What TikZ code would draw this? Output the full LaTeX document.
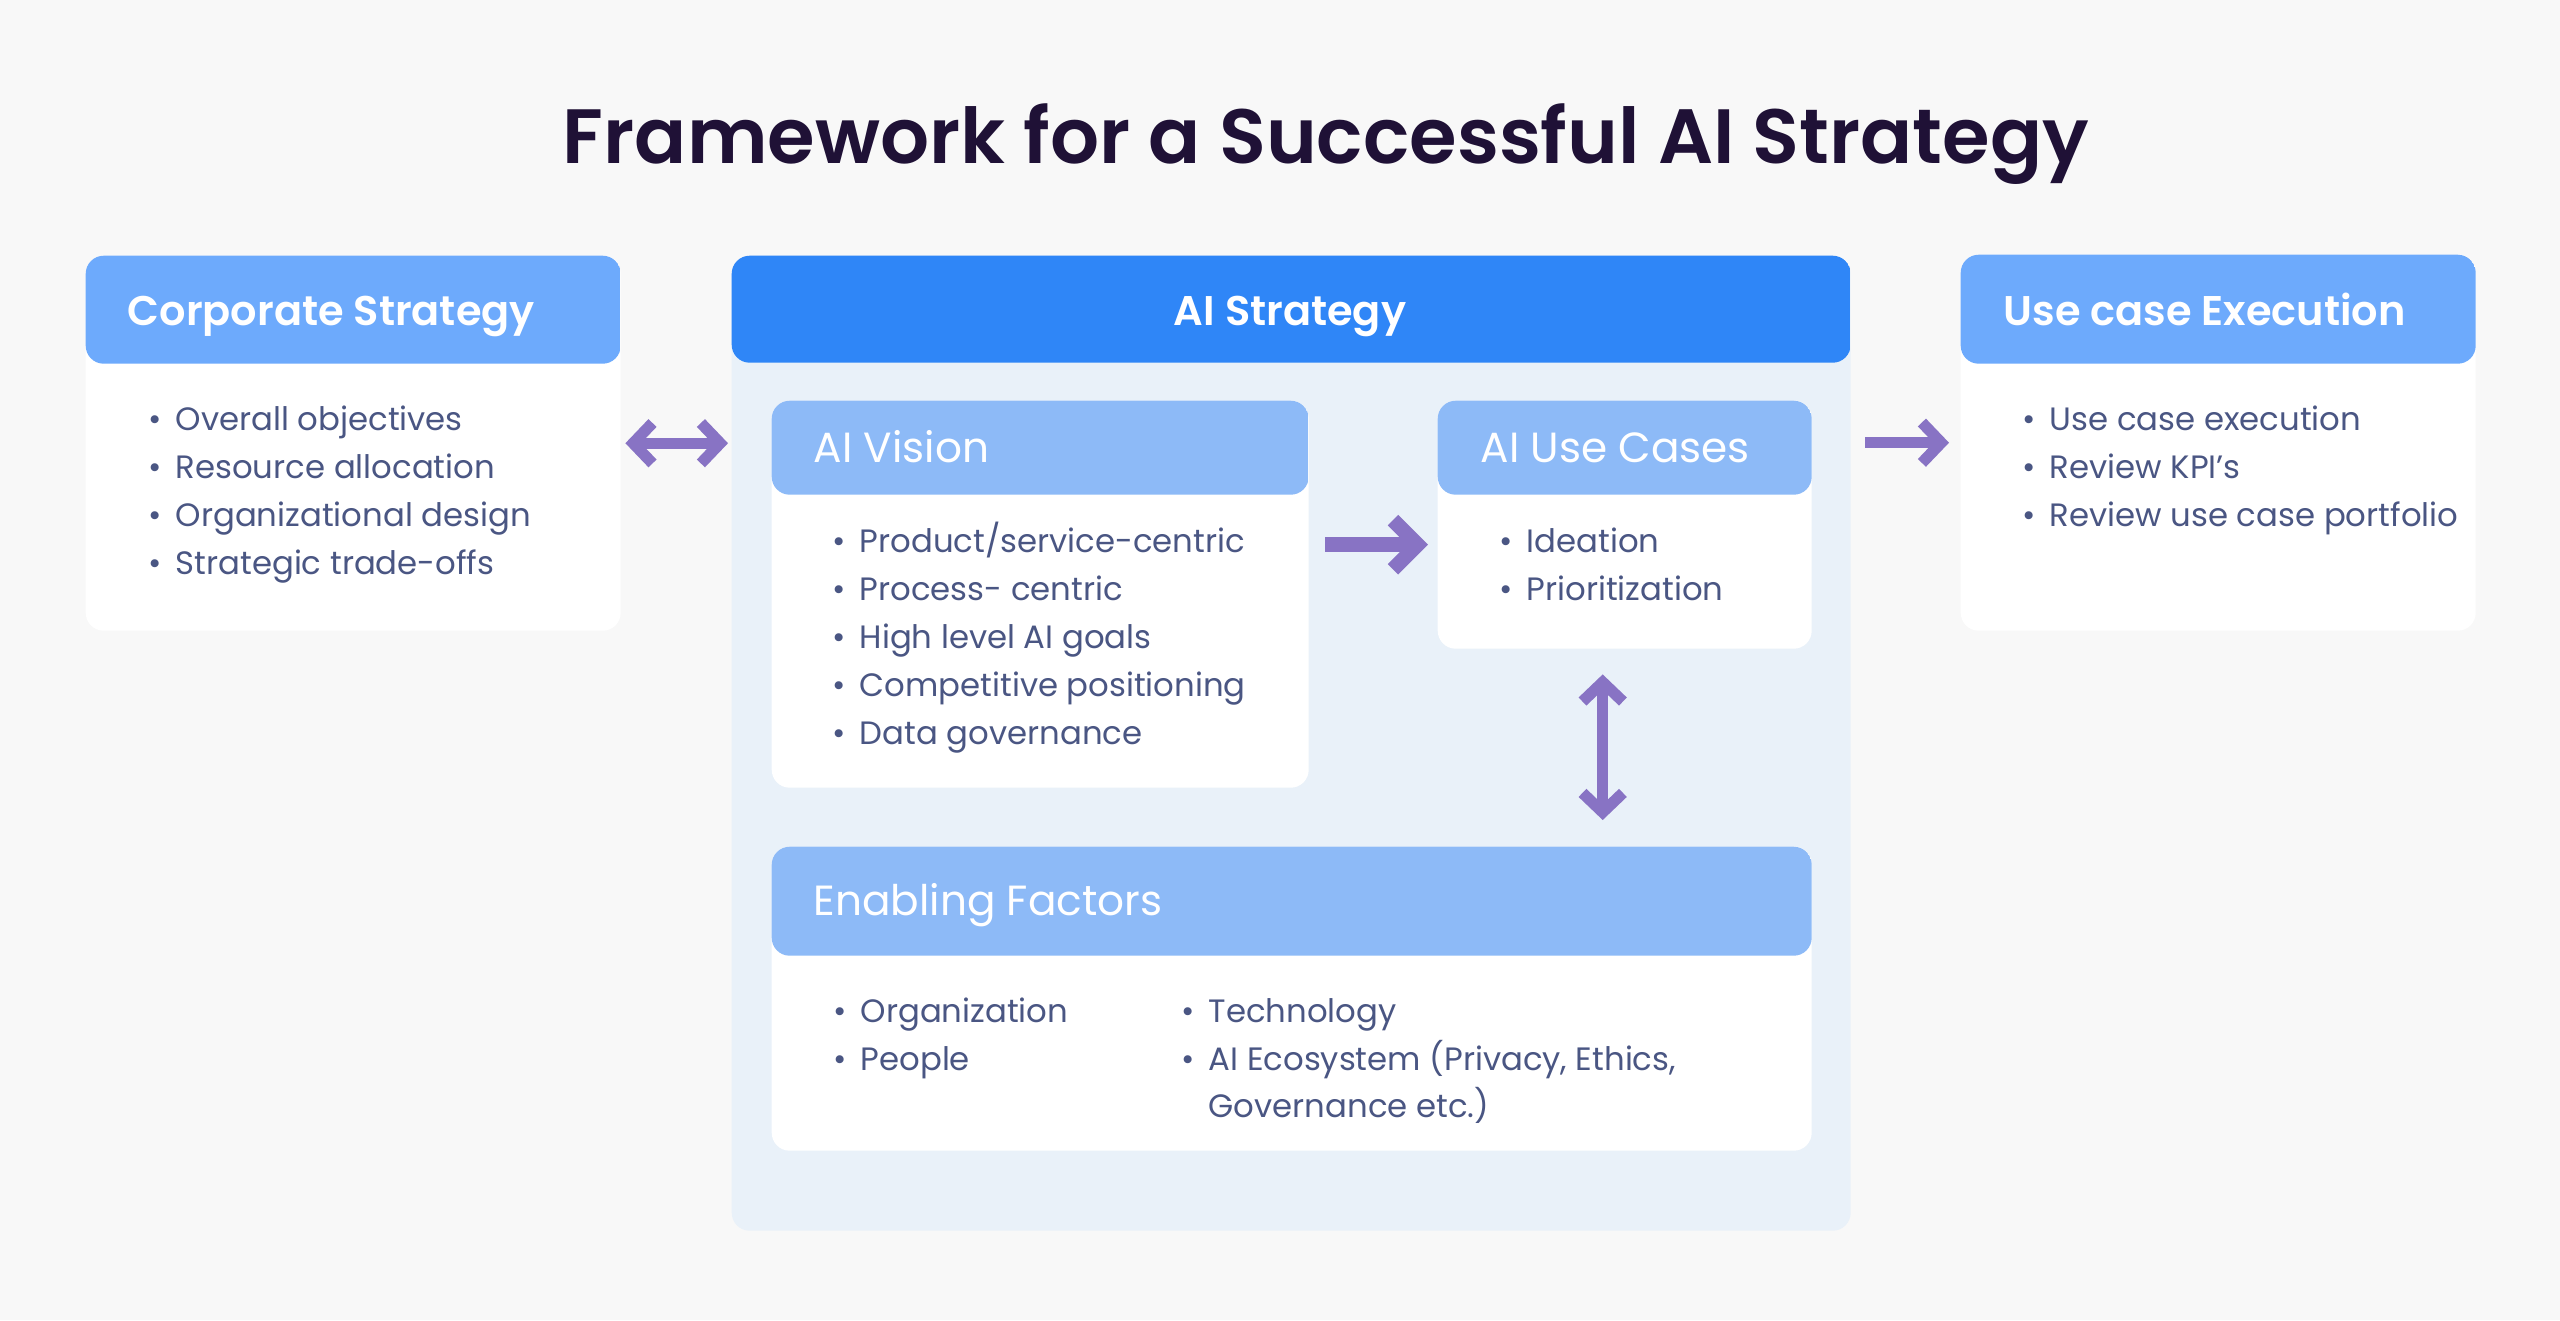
\documentclass[tikz,border=0pt]{standalone}
\usepackage{fontspec}
\setmainfont{Poppins}[BoldFont={Poppins SemiBold}]
\usetikzlibrary{arrows.meta, calc, positioning}
\definecolor{pagebg}{HTML}{F8F8F8}
\definecolor{hdrouter}{HTML}{6DAAFC}
\definecolor{hdrmain}{HTML}{2F86F7}
\definecolor{hdrinner}{HTML}{8DBAF7}
\definecolor{mainbg}{HTML}{E9F1F9}
\definecolor{txtbody}{HTML}{4A5683}
\definecolor{txttitle}{HTML}{1F1136}
\definecolor{arrowpurple}{HTML}{8873C4}
\newcommand{\itm}{\makebox[2.7mm][l]{\textbullet}}
\tikzset{
  % white card, coloured header strip clipped to the rounded shape
  card/.style 2 args={fill=white, rounded corners=1.8mm, anchor=north west, inner sep=0pt,
    path picture={\fill[#1] (path picture bounding box.north west)
      rectangle ([yshift=-#2]path picture bounding box.north east);}},
  % header titles
  hdrtxt/.style={anchor=base west, inner sep=0pt, text=white, font=\fontsize{12}{15}\selectfont},
  hdrbold/.style={hdrtxt, font=\fontsize{11.8}{15}\selectfont\bfseries},
  % bullet lines
  item/.style={anchor=base west, inner sep=0pt, text=txtbody, font=\fontsize{9.2}{11}\selectfont},
  % purple connectors
  link/.style={line width=3.2pt, draw=arrowpurple,
    -{Straight Barb[length=5.5pt, width=11.5pt, line join=miter]}},
  linkboth/.style={link, {Straight Barb[length=5.5pt, width=11.5pt, line join=miter]}-{Straight Barb[length=5.5pt, width=11.5pt, line join=miter]}},
  linkbig/.style={line width=4.2pt, draw=arrowpurple,
    -{Straight Barb[length=7pt, width=14pt, line join=miter]}},
}
\begin{document}
\begin{tikzpicture}[x=0.1mm, y=-0.1mm]
  \fill[pagebg] (0,0) rectangle (2560,1320);
  \node[font=\fontsize{21.9}{26}\selectfont\bfseries, text=txttitle, anchor=base, inner sep=0pt]
    (title) at (1326,163) {Framework for a Successful AI Strategy};

  % boxes
  \node[card={hdrouter}{10.8mm}, minimum width=53.5mm, minimum height=37.5mm] (corp) at (85,255) {};
  \node[card={hdrmain}{10.7mm}, fill=mainbg, minimum width=111.9mm, minimum height=97.5mm] (strat) at (731,255) {};
  \node[card={hdrinner}{9.4mm}, minimum width=53.7mm, minimum height=38.7mm] (vision) at (771,400) {};
  \node[card={hdrinner}{9.4mm}, minimum width=37.4mm, minimum height=24.8mm] (uc) at (1437,400) {};
  \node[card={hdrinner}{10.9mm}, minimum width=104mm, minimum height=30.4mm] (enab) at (771,846) {};
  \node[card={hdrouter}{10.9mm}, minimum width=51.5mm, minimum height=37.6mm] (exec) at (1960,254) {};

  % header titles
  \node[hdrbold] (corp-t) at (127,325) {Corporate Strategy};
  \node[hdrbold, anchor=base] (strat-t) at (1290,325) {AI Strategy};
  \node[hdrtxt] (vision-t) at (813,462) {AI Vision};
  \node[hdrtxt] (uc-t) at (1480,462) {AI Use Cases};
  \node[hdrtxt] (enab-t) at (813,915) {Enabling Factors};
  \node[hdrbold] (exec-t) at (2003,325) {Use case Execution};

  % bullet lists
  \foreach \t [count=\i] in {Overall objectives, Resource allocation, Organizational design, Strategic trade-offs}
    \node[item] (corp-\i) at (148,382+48*\i) {\itm\t};
  \foreach \t [count=\i] in {Product/service-centric, Process- centric, High level AI goals, Competitive positioning, Data governance}
    \node[item] (vision-\i) at (832,504+48*\i) {\itm\t};
  \foreach \t [count=\i] in {Ideation, Prioritization}
    \node[item] (uc-\i) at (1499,504+48*\i) {\itm\t};
  \foreach \t [count=\i] in {Use case execution, Review KPI’s, Review use case portfolio}
    \node[item] (exec-\i) at (2022,382+48*\i) {\itm\t};
  \foreach \t [count=\i] in {Organization, People}
    \node[item] (enab-a\i) at (833,974+48*\i) {\itm\t};
  \foreach \t [count=\i] in {Technology, {AI Ecosystem (Privacy, Ethics,}}
    \node[item] (enab-b\i) at (1181,974+48*\i) {\itm\t};
  \node[item] (enab-b3) at (1181,1117) {\phantom{\itm}Governance etc.)};

  % connectors
  \draw[linkboth, shorten <=0.4mm, shorten >=0.3mm] (corp.east) -- (corp.east -| strat.west);
  \draw[link, shorten <=1.4mm, shorten >=1.1mm] (exec.west -| strat.east) -- (exec.west);
  \draw[linkbig, shorten <=1.6mm, shorten >=0.9mm] ($(vision.east |- uc.west)+(0,20)$) -- ($(uc.west)+(0,20)$);
  \draw[linkboth, shorten <=2.5mm, shorten >=2.6mm] ($(uc.south)+(-22,0)$) -- ($(uc.south |- enab.north)+(-22,0)$);
\end{tikzpicture}
\end{document}
